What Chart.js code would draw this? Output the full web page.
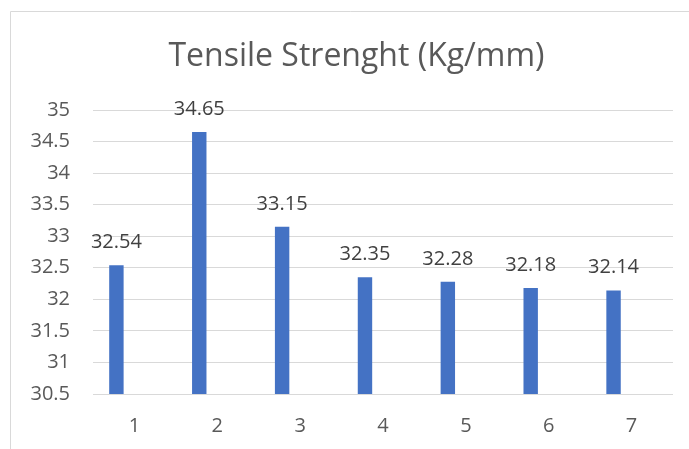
<!DOCTYPE html>
<html>
<head>
<meta charset="utf-8">
<script src="https://cdn.jsdelivr.net/npm/chart.js@4/dist/chart.umd.min.js"></script>
<style>
  html, body { margin: 0; padding: 0; background: #ffffff; overflow: hidden; }
  #wrap { position: absolute; left: 0; top: 0; width: 689px; height: 449px; }
</style>
</head>
<body>
<div id="wrap"><canvas id="c" width="689" height="449"></canvas></div>
<script>
const categories = ["1", "2", "3", "4", "5", "6", "7"];
const tensileValues = [32.54, 34.65, 33.15, 32.35, 32.28, 32.18, 32.14];
const emptySeries = [null, null, null, null, null, null, null];
const yTickMin = 30.5;
const yTickMax = 35;
const yTickStep = 0.5;
const chartTitle = "Tensile Strenght (Kg/mm)";

const framePlugin = {
  id: 'frame',
  beforeDraw(chart) {
    const ctx = chart.ctx;
    ctx.save();
    ctx.strokeStyle = '#d9d9d9';
    ctx.lineWidth = 1;
    ctx.beginPath();
    ctx.moveTo(10.5, 460);
    ctx.lineTo(10.5, 11.5);
    ctx.lineTo(700, 11.5);
    ctx.stroke();
    ctx.restore();
  }
};

const labelPlugin = {
  id: 'barLabels',
  afterDatasetsDraw(chart) {
    const ctx = chart.ctx;
    const meta = chart.getDatasetMeta(0);
    const data = chart.data.datasets[0].data;
    ctx.save();
    ctx.font = '20px "Open Sans"';
    ctx.fillStyle = '#404040';
    ctx.textAlign = 'center';
    ctx.textBaseline = 'alphabetic';
    meta.data.forEach((bar, i) => {
      ctx.fillText(String(data[i]), bar.x, bar.y - 17);
    });
    ctx.restore();
  }
};

new Chart(document.getElementById('c'), {
  type: 'bar',
  data: {
    labels: categories,
    datasets: [
      { data: tensileValues, backgroundColor: '#4472c4', borderWidth: 0, categoryPercentage: 0.87, barPercentage: 0.4 },
      { data: emptySeries, backgroundColor: '#ed7d31', borderWidth: 0, categoryPercentage: 0.87, barPercentage: 0.4 }
    ]
  },
  options: {
    responsive: false,
    animation: false,
    devicePixelRatio: 1,
    layout: { padding: { left: 24, right: 0, top: 0, bottom: 0 } },
    plugins: {
      legend: { display: false },
      tooltip: { enabled: false },
      title: {
        display: true,
        text: chartTitle,
        color: '#595959',
        font: { family: '"Open Sans"', size: 32, weight: 'normal', lineHeight: 1.2 },
        padding: { top: 38, bottom: 33.6 }
      }
    },
    scales: {
      x: {
        grid: { display: false, drawTicks: false },
        border: { display: false },
        ticks: { color: '#595959', font: { family: '"Open Sans"', size: 20 }, padding: 20 },
        afterFit(s) { s.height = 55; }
      },
      y: {
        min: yTickMin,
        max: yTickMax,
        grid: { color: '#d9d9d9', lineWidth: 1, drawTicks: false },
        border: { display: false },
        ticks: {
          stepSize: yTickStep,
          color: '#595959',
          font: { family: '"Open Sans"', size: 20 },
          padding: 23,
          callback: (v) => String(v)
        },
        afterFit(s) { s.width = 69; }
      },
      yRight: {
        position: 'right',
        display: true,
        grid: { display: false, drawTicks: false },
        border: { display: false },
        ticks: { display: false },
        afterFit(s) { s.width = 16; }
      }
    }
  },
  plugins: [framePlugin, labelPlugin]
});
</script>
</body>
</html>
